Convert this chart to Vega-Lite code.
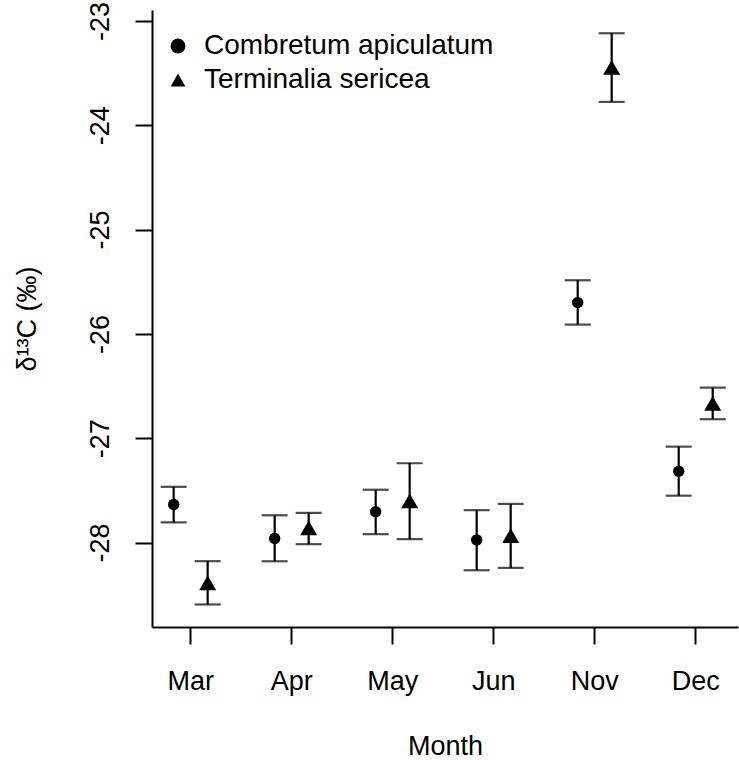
{
  "$schema": "https://vega.github.io/schema/vega-lite/v6.json",
  "width": 586,
  "height": 617,
  "autosize": {"type": "none"},
  "padding": {"left": 152, "top": 10, "right": 1, "bottom": 133},
  "background": "white",
  "config": {
    "view": {"stroke": null},
    "font": "Liberation Sans",
    "axis": {
      "grid": false,
      "domainColor": "black",
      "domainWidth": 2,
      "tickColor": "black",
      "tickWidth": 2,
      "tickSize": 17,
      "labelColor": "black",
      "titleColor": "black",
      "labelFontSize": 27,
      "titleFontSize": 27,
      "titleFontWeight": "normal"
    },
    "legend": {
      "orient": "none",
      "legendX": 12,
      "legendY": 22,
      "padding": 0,
      "labelFontSize": 28,
      "labelColor": "black",
      "labelLimit": 0,
      "labelOffset": 12,
      "rowPadding": 6,
      "symbolSize": 220,
      "symbolFillColor": "black",
      "symbolStrokeWidth": 0
    }
  },
  "data": {
    "values": [
      {"month": "Mar", "species": "Combretum apiculatum", "mean": -27.636, "lo": -27.807, "hi": -27.466},
      {"month": "Mar", "species": "Terminalia sericea", "mean": -28.387, "lo": -28.594, "hi": -28.179},
      {"month": "Apr", "species": "Combretum apiculatum", "mean": -27.962, "lo": -28.180, "hi": -27.739},
      {"month": "Apr", "species": "Terminalia sericea", "mean": -27.860, "lo": -28.016, "hi": -27.716},
      {"month": "May", "species": "Combretum apiculatum", "mean": -27.705, "lo": -27.920, "hi": -27.494},
      {"month": "May", "species": "Terminalia sericea", "mean": -27.600, "lo": -27.967, "hi": -27.240},
      {"month": "Jun", "species": "Combretum apiculatum", "mean": -27.975, "lo": -28.266, "hi": -27.690},
      {"month": "Jun", "species": "Terminalia sericea", "mean": -27.935, "lo": -28.243, "hi": -27.630},
      {"month": "Nov", "species": "Combretum apiculatum", "mean": -25.700, "lo": -25.911, "hi": -25.486},
      {"month": "Nov", "species": "Terminalia sericea", "mean": -23.445, "lo": -23.776, "hi": -23.118},
      {"month": "Dec", "species": "Combretum apiculatum", "mean": -27.316, "lo": -27.551, "hi": -27.081},
      {"month": "Dec", "species": "Terminalia sericea", "mean": -26.665, "lo": -26.818, "hi": -26.515}
    ]
  },
  "encoding": {
    "x": {
      "field": "month",
      "type": "nominal",
      "sort": ["Mar", "Apr", "May", "Jun", "Nov", "Dec"],
      "scale": {"type": "band", "paddingInner": 0.327, "paddingOuter": 0.0643, "align": 0.36},
      "axis": {
        "labelAngle": 0,
        "labelPadding": 24,
        "labelBaseline": "top",
        "title": "Month",
        "titleX": 293,
        "titleY": 127,
        "titleBaseline": "alphabetic",
        "titleAlign": "center"
      }
    },
    "xOffset": {
      "field": "species",
      "type": "nominal",
      "sort": ["Combretum apiculatum", "Terminalia sericea"],
      "scale": {"type": "band", "paddingInner": 0, "paddingOuter": 0}
    }
  },
  "layer": [
    {
      "mark": {"type": "rule", "strokeWidth": 2.2, "color": "black"},
      "encoding": {
        "y": {
          "field": "lo",
          "type": "quantitative",
          "scale": {"domain": [-28.81, -22.895], "nice": false, "zero": false},
          "axis": {
            "values": [-28, -27, -26, -25, -24, -23],
            "labelExpr": "datum.value + ''",
            "labelAngle": -90,
            "labelAlign": "center",
            "labelBaseline": "alphabetic",
            "labelPadding": 27,
            "title": "δ¹³C (‰)",
            "titleAngle": -90,
            "titleX": -117,
            "titleY": 308.5,
            "titleBaseline": "alphabetic",
            "titleAlign": "center"
          }
        },
        "y2": {"field": "hi"}
      }
    },
    {
      "mark": {"type": "tick", "size": 26, "thickness": 2.2, "color": "black", "orient": "horizontal"},
      "encoding": {"y": {"field": "lo", "type": "quantitative"}}
    },
    {
      "mark": {"type": "tick", "size": 26, "thickness": 2.2, "color": "black", "orient": "horizontal"},
      "encoding": {"y": {"field": "hi", "type": "quantitative"}}
    },
    {
      "mark": {"type": "point", "filled": true, "opacity": 1, "color": "black"},
      "encoding": {
        "y": {"field": "mean", "type": "quantitative"},
        "shape": {
          "field": "species",
          "type": "nominal",
          "sort": ["Combretum apiculatum", "Terminalia sericea"],
          "scale": {"range": ["circle", "triangle-up"]},
          "legend": {
            "title": null,
            "encode": {
              "symbols": {
                "enter": {
                  "size": {"signal": "indexof(['Combretum apiculatum'], datum.label) >= 0 ? 110 : 290"}
                },
                "update": {
                  "size": {"signal": "indexof(['Combretum apiculatum'], datum.label) >= 0 ? 110 : 290"},
                  "fill": {"value": "black"},
                  "opacity": {"value": 1}
                }
              }
            }
          }
        },
        "size": {
          "field": "species",
          "type": "nominal",
          "sort": ["Combretum apiculatum", "Terminalia sericea"],
          "scale": {"range": [130, 290]},
          "legend": null
        }
      }
    }
  ]
}
